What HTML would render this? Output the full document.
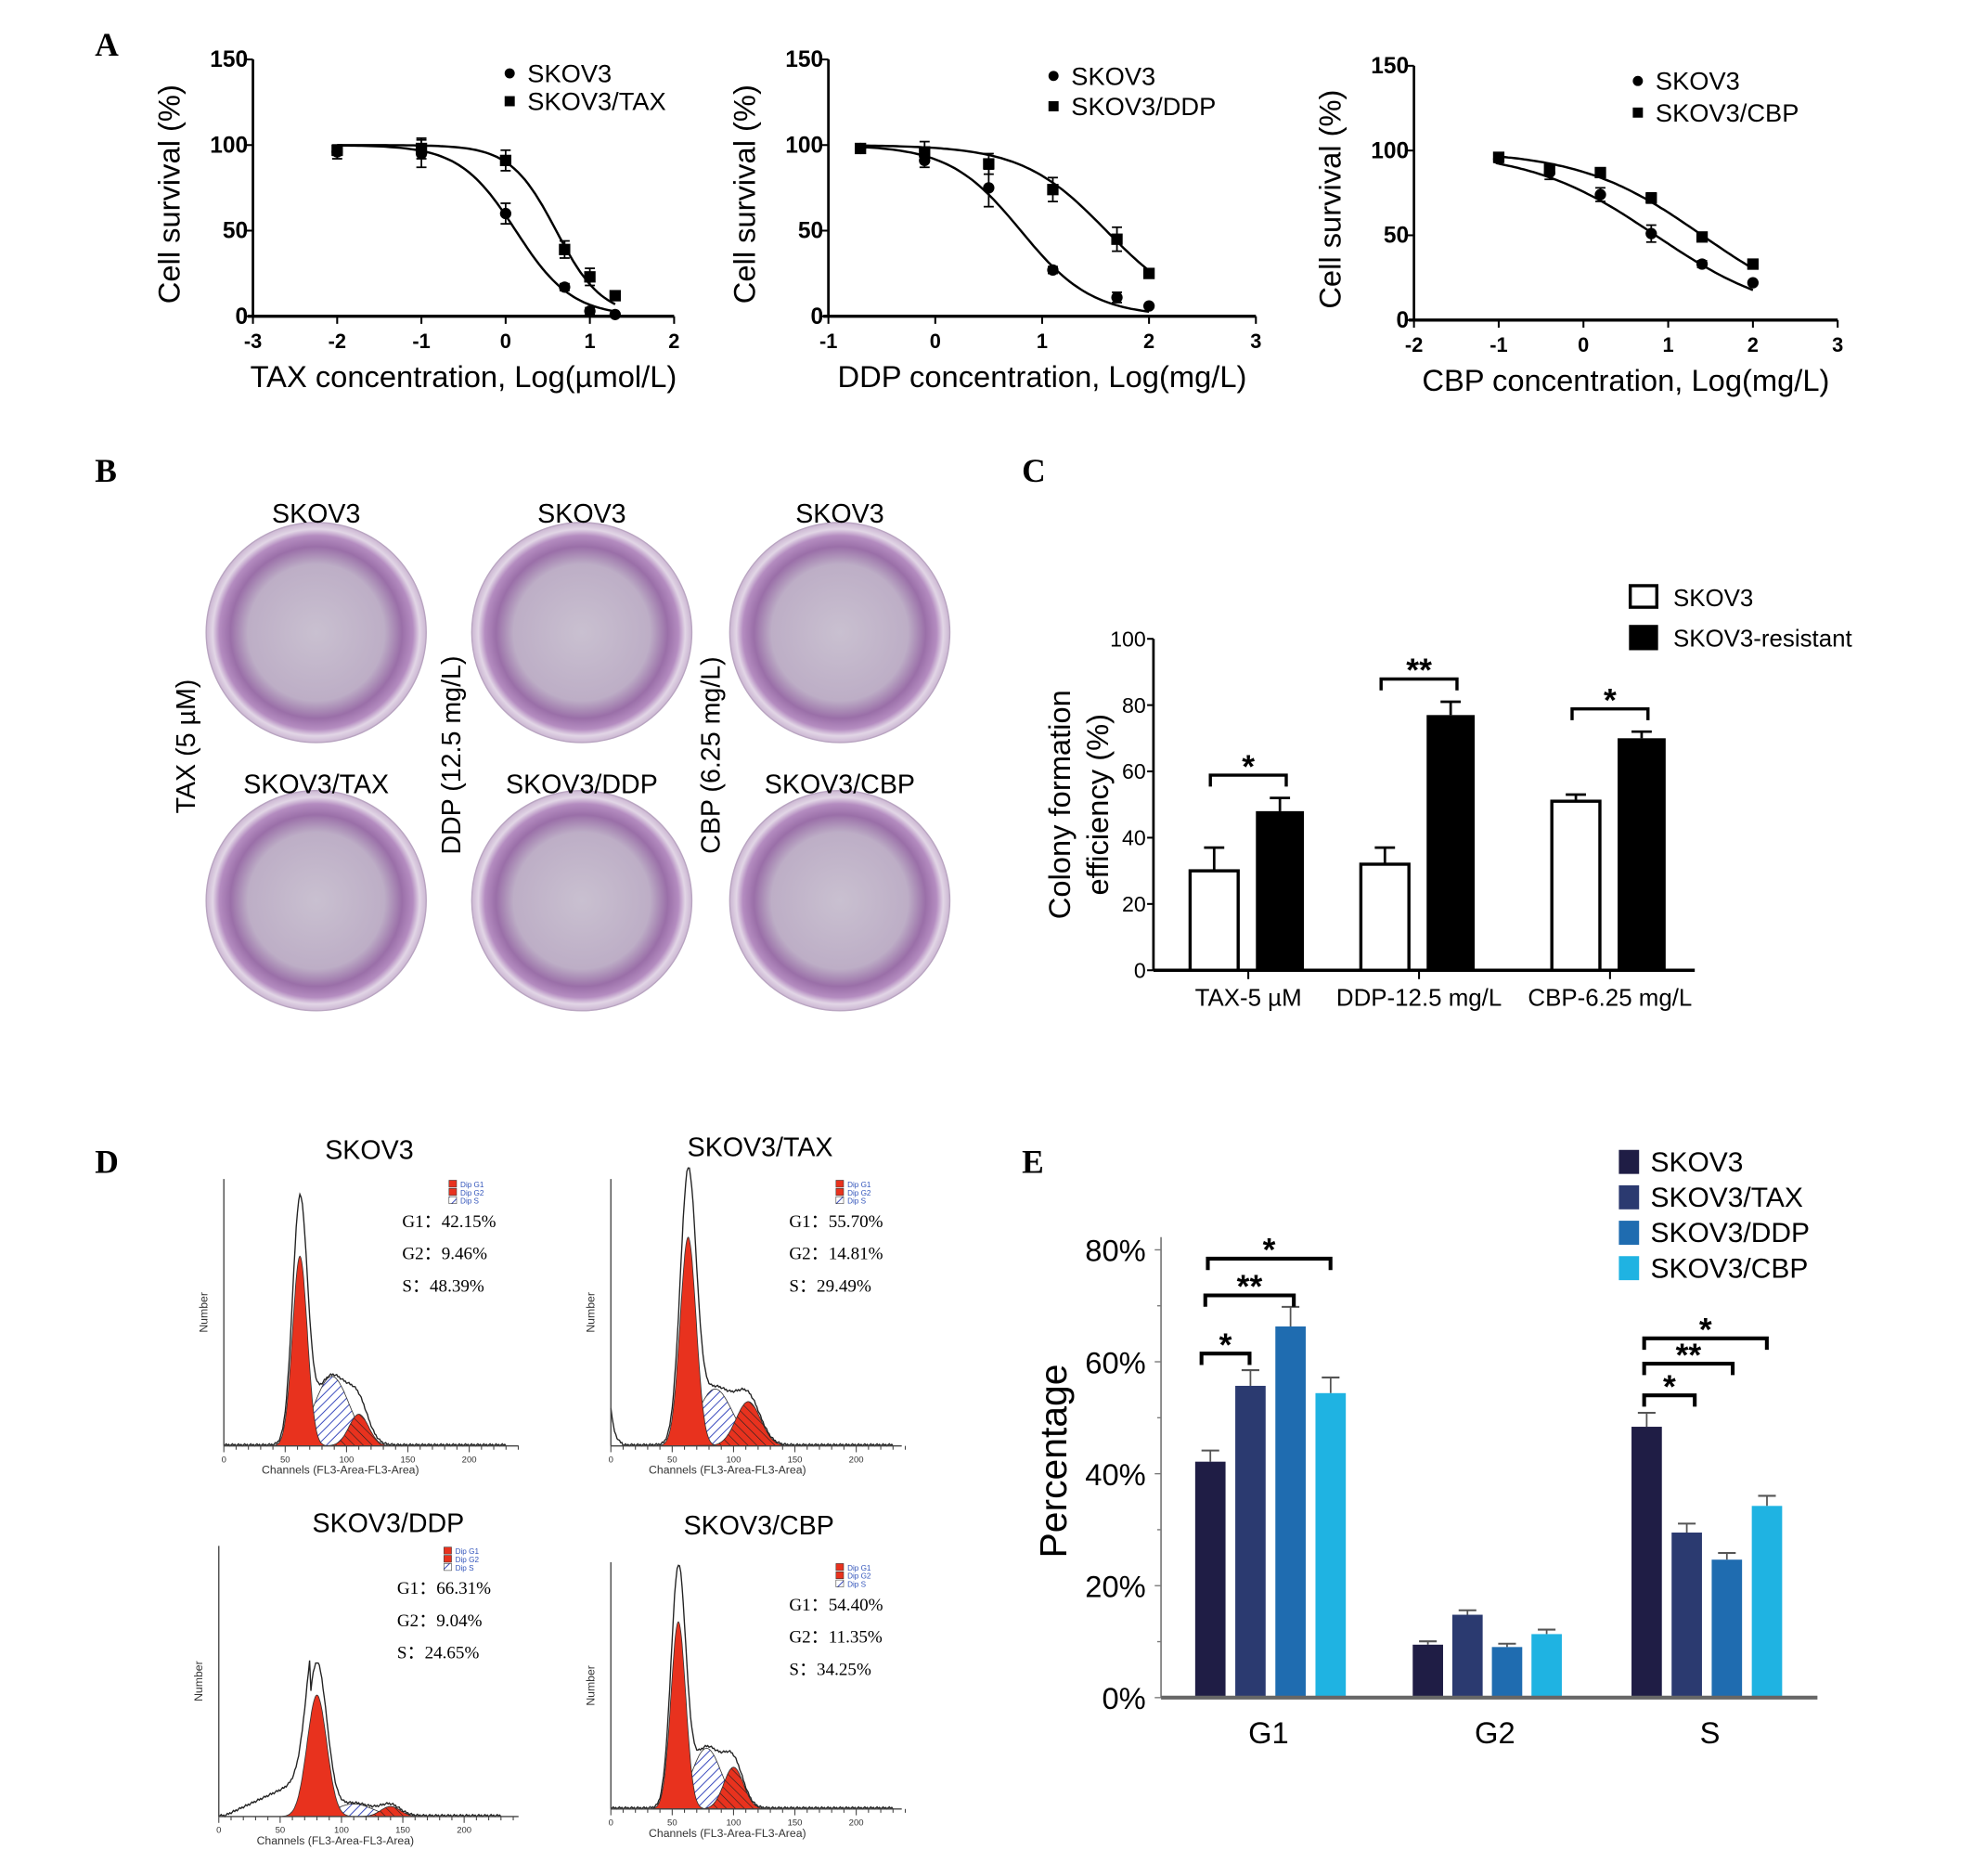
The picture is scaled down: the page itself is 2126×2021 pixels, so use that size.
<!DOCTYPE html>
<html><head><meta charset="utf-8">
<style>
html,body{margin:0;padding:0;background:#fff;}
svg{display:block;font-family:"Liberation Sans",sans-serif;}
.pl{font-family:"Liberation Serif",serif;font-weight:bold;font-size:26px;}
</style></head>
<body>
<svg id="fig" width="2126" height="2021" viewBox="0 0 1560 1483" preserveAspectRatio="none" xmlns="http://www.w3.org/2000/svg">
<defs>
<pattern id="hatchBlue" patternUnits="userSpaceOnUse" width="5" height="5" patternTransform="rotate(45)"><rect width="5" height="5" fill="#fff"/><line x1="0" y1="0" x2="0" y2="5" stroke="#3344bb" stroke-width="1.4"/></pattern>
<pattern id="hatchRed" patternUnits="userSpaceOnUse" width="5" height="5" patternTransform="rotate(-45)"><rect width="5" height="5" fill="#e8321e"/><line x1="0" y1="0" x2="0" y2="5" stroke="#222" stroke-width="0.9"/></pattern>
<radialGradient id="dish" cx="50%" cy="50%" r="50%">
<stop offset="0%" stop-color="#c9c0d0"/><stop offset="62%" stop-color="#bdaec6"/><stop offset="78%" stop-color="#9a6fa8"/><stop offset="88%" stop-color="#b48cc0"/><stop offset="94%" stop-color="#e2d6e6"/><stop offset="100%" stop-color="#cbb6d2"/></radialGradient>
</defs>
<text class="pl" x="75" y="44">A</text>
<text class="pl" x="75" y="381">B</text>
<text class="pl" x="808" y="381">C</text>
<text class="pl" x="75" y="927">D</text>
<text class="pl" x="808" y="927">E</text>
</svg>
<script>
// ---------- Panel A data ----------
const taxX=[-2,-1,0,0.7,1,1.3];
const taxS=[96,95,60,17,3,1];
const taxR=[97,98,91,39,23,12];
const taxSErr=[4,8,6,2,2,1];
const taxRErr=[3,6,6,5,5,2];
const taxFitS=[0.12,1.3];
const taxFitR=[0.6,1.6];
const ddpX=[-0.7,-0.1,0.5,1.1,1.7,2];
const ddpS=[98,91,75,27,11,6];
const ddpR=[98,96,89,74,45,25];
const ddpSErr=[2,4,11,2,3,1];
const ddpRErr=[2,6,6,7,7,2];
const ddpFitS=[0.8,1.3];
const ddpFitR=[1.6,1.1];
const cbpX=[-1,-0.4,0.2,0.8,1.4,2];
const cbpS=[95,87,74,51,33,22];
const cbpR=[96,89,87,72,49,33];
const cbpSErr=[2,4,4,5,2,1];
const cbpRErr=[2,3,2,3,2,1];
const cbpFitS=[0.85,0.58];
const cbpFitR=[1.4,0.6];
const survTicks=[0,50,100,150];
// ---------- Panel C data ----------
const colonyCats=["TAX-5 µM","DDP-12.5 mg/L","CBP-6.25 mg/L"];
const colonyS=[30,32,51];
const colonyR=[48,77,70];
const colonySErr=[7,5,2];
const colonyRErr=[4,4,2];
const colonyStars=["*","**","*"];
const colonyTicks=[0,20,40,60,80,100];
// ---------- Panel E data ----------
const phaseCats=["G1","G2","S"];
const phaseSeries=["SKOV3","SKOV3/TAX","SKOV3/DDP","SKOV3/CBP"];
const phaseG1=[42.15,55.70,66.31,54.40];
const phaseG2=[9.46,14.81,9.04,11.35];
const phaseS=[48.39,29.49,24.65,34.25];
const phaseG1Err=[2,2.8,3.5,2.8];
const phaseG2Err=[0.6,0.8,0.6,0.8];
const phaseSErr=[2.5,1.6,1.2,1.8];
const phaseTicks=[0,20,40,60,80];
// ---------- Panel D data (peak channel, height, sd) ----------
const histTitles=["SKOV3","SKOV3/TAX","SKOV3/DDP","SKOV3/CBP"];
const histG1=[[62,150,6],[63,165,6.5],[80,96,8],[55,148,6]];
const histSph=[[88,55,14],[85,45,14],[110,10,15],[78,48,12]];
const histG2=[[110,25,8],[112,35,10],[140,8,8],[100,33,8]];
const histPct=[["42.15%","9.46%","48.39%"],["55.70%","14.81%","29.49%"],["66.31%","9.04%","24.65%"],["54.40%","11.35%","34.25%"]];

const NS="http://www.w3.org/2000/svg";
const svg=document.getElementById('fig');
function mk(tag,attrs,parent){const e=document.createElementNS(NS,tag);for(const k in attrs)e.setAttribute(k,attrs[k]);(parent||svg).appendChild(e);return e;}
function txt(s,attrs,parent){const e=mk('text',attrs,parent);e.textContent=s;return e;}

// ---------- Panel A ----------
function dose(cfg){
  const g=mk('g',{});
  
  
  const xs=v=>cfg.x0+(v-cfg.xmin)*(cfg.x1-cfg.x0)/(cfg.xmax-cfg.xmin);
  const ys=v=>cfg.y0-(v)*(cfg.y0-cfg.y1)/150;
  let e=mk('line',{x1:cfg.x0,y1:cfg.y1,x2:cfg.x0,y2:cfg.y0,stroke:'#000','stroke-width':2},g);
  
  
  e=mk('line',{x1:cfg.x0-4,y1:cfg.y0,x2:cfg.x1,y2:cfg.y0,stroke:'#000','stroke-width':2.5},g);
  
  
  survTicks.forEach(t=>{
    mk('line',{x1:cfg.x0-5,y1:ys(t),x2:cfg.x0,y2:ys(t),stroke:'#000','stroke-width':1.5},g);
    const l=txt(String(t),{x:cfg.x0-4,y:ys(t)+6,'text-anchor':'end','font-size':18,'font-weight':'bold'},g);
    
    
  });
  for(let t=cfg.xmin;t<=cfg.xmax;t++){
    mk('line',{x1:xs(t),y1:cfg.y0,x2:xs(t),y2:cfg.y0+6,stroke:'#000','stroke-width':1.5},g);
    const l=txt(String(t),{x:xs(t),y:cfg.y0+25,'text-anchor':'middle','font-size':16,'font-weight':'bold'},g);
    
    
  }
  let l=txt(cfg.xlabel,{x:(cfg.x0+cfg.x1)/2,y:cfg.y0+56,'text-anchor':'middle','font-size':24},g);
  
  
  l=txt('Cell survival (%)',{x:0,y:0,'text-anchor':'middle','font-size':24,transform:`translate(${cfg.x0-58},${(cfg.y0+cfg.y1)/2+5}) rotate(-90)`},g);
  
  
  [[cfg.fitS,'curve-skov3'],[cfg.fitR,'curve-resistant']].forEach(([p,n])=>{
    let d='';const a=cfg.xs[0],b=cfg.xs[cfg.xs.length-1];
    for(let i=0;i<=80;i++){const v=a+(b-a)*i/80;const y=100/(1+Math.pow(10,(v-p[0])*p[1]));d+=(i?'L':'M')+xs(v).toFixed(1)+','+ys(y).toFixed(1);}
    const c=mk('path',{d,fill:'none',stroke:'#000','stroke-width':1.8},g);
    
    
  });
  cfg.xs.forEach((v,i)=>{
    [[cfg.s,cfg.se,'c'],[cfg.r,cfg.re,'s']].forEach(([arr,err,m])=>{
      const X=xs(v),Y=ys(arr[i]),E=err[i]*(cfg.y0-cfg.y1)/150;
      mk('line',{x1:X,y1:Y-E,x2:X,y2:Y+E,stroke:'#000','stroke-width':1.3},g);
      mk('line',{x1:X-4,y1:Y-E,x2:X+4,y2:Y-E,stroke:'#000','stroke-width':1.3},g);
      mk('line',{x1:X-4,y1:Y+E,x2:X+4,y2:Y+E,stroke:'#000','stroke-width':1.3},g);
      let p;
      if(m==='c'){p=mk('circle',{cx:X,cy:Y,r:4.5,fill:'#000'},g);}
      else{p=mk('rect',{x:X-4.5,y:Y-4.5,width:9,height:9,fill:'#000'},g);}
      
    });
  });
  let lg=mk('circle',{cx:cfg.lx,cy:cfg.ly,r:4,fill:'#000'},g);
  
  
  lg=txt('SKOV3',{x:cfg.lx+14,y:cfg.ly+7,'font-size':20},g);
  
  
  lg=mk('rect',{x:cfg.lx-4,y:cfg.ly+cfg.ld-4,width:8,height:8,fill:'#000'},g);
  
  
  lg=txt(cfg.rname,{x:cfg.lx+14,y:cfg.ly+cfg.ld+7,'font-size':20},g);
  
  
}
dose({name:'tax-dose-chart',x0:200,x1:533,xmin:-3,xmax:2,y0:250,y1:47,xs:taxX,s:taxS,r:taxR,se:taxSErr,re:taxRErr,fitS:taxFitS,fitR:taxFitR,xlabel:'TAX concentration, Log(µmol/L)',lx:403,ly:58,ld:22,rname:'SKOV3/TAX'});
dose({name:'ddp-dose-chart',x0:655,x1:993,xmin:-1,xmax:3,y0:250,y1:47,xs:ddpX,s:ddpS,r:ddpR,se:ddpSErr,re:ddpRErr,fitS:ddpFitS,fitR:ddpFitR,xlabel:'DDP concentration, Log(mg/L)',lx:833,ly:60,ld:24,rname:'SKOV3/DDP'});
dose({name:'cbp-dose-chart',x0:1118,x1:1453,xmin:-2,xmax:3,y0:253,y1:52,xs:cbpX,s:cbpS,r:cbpR,se:cbpSErr,re:cbpRErr,fitS:cbpFitS,fitR:cbpFitR,xlabel:'CBP concentration, Log(mg/L)',lx:1295,ly:64,ld:25,rname:'SKOV3/CBP'});

// ---------- Panel B ----------
const dishCx=[250,460,664];
const dishTop=["SKOV3","SKOV3","SKOV3"];
const dishBot=["SKOV3/TAX","SKOV3/DDP","SKOV3/CBP"];
const dishSide=["TAX (5 µM)","DDP (12.5 mg/L)","CBP (6.25 mg/L)"];
const dishSideX=[147,357,562];
dishCx.forEach((cx,i)=>{
  [[500,dishTop[i],406,'top'],[712,dishBot[i],620,'bottom']].forEach(([cy,lab,ty,pos])=>{
    let c=mk('circle',{cx,cy,r:87,fill:'url(#dish)',stroke:'#b8a4c0','stroke-width':1});
    
    
    c=txt(lab,{x:cx,y:ty+7,'text-anchor':'middle','font-size':21});
    
    
  });
  const s=txt(dishSide[i],{x:0,y:0,'text-anchor':'middle','font-size':21,transform:`translate(${dishSideX[i]+7},${i?597:590}) rotate(-90)`});
  
  
});

// ---------- Panel C ----------
(function(){
  const X0=912,Y0=767,Y1=505,XR=1340;
  const ys=v=>Y0-v*(Y0-Y1)/100;
  const gx=[987,1122,1273],bw=38;
  let e=mk('line',{x1:X0,y1:Y1,x2:X0,y2:Y0,stroke:'#000','stroke-width':2});
  
  
  e=mk('line',{x1:X0,y1:Y0,x2:XR,y2:Y0,stroke:'#000','stroke-width':2.5});
  
  
  colonyTicks.forEach(t=>{
    mk('line',{x1:X0-5,y1:ys(t),x2:X0,y2:ys(t),stroke:'#000','stroke-width':1.5});
    const l=txt(String(t),{x:X0-6,y:ys(t)+6,'text-anchor':'end','font-size':17});
    
    
  });
  colonyCats.forEach((c,i)=>{
    const cx=gx[i];
    mk('line',{x1:cx,y1:Y0,x2:cx,y2:Y0+7,stroke:'#000','stroke-width':1.5});
    let l=txt(c,{x:cx,y:Y0+28,'text-anchor':'middle','font-size':19});
    
    
    const xa=cx-46,xb=cx+6;
    // error bars
    [[xa,colonyS[i],colonySErr[i]],[xb,colonyR[i],colonyRErr[i]]].forEach(([x,v,er])=>{
      mk('line',{x1:x+bw/2,y1:ys(v),x2:x+bw/2,y2:ys(v+er),stroke:'#000','stroke-width':2});
      mk('line',{x1:x+bw/2-8,y1:ys(v+er),x2:x+bw/2+8,y2:ys(v+er),stroke:'#000','stroke-width':2});
    });
    let b=mk('rect',{x:xa,y:ys(colonyS[i]),width:bw,height:Y0-ys(colonyS[i]),fill:'#fff',stroke:'#000','stroke-width':2.5});
    
    
    b=mk('rect',{x:xb,y:ys(colonyR[i]),width:bw,height:Y0-ys(colonyR[i]),fill:'#000'});
    
    
    const top=ys(Math.max(colonyS[i]+colonySErr[i],colonyR[i]+colonyRErr[i]))-18;
    const br=mk('path',{d:`M${xa+16},${top+9}V${top}H${xb+24}V${top+9}`,fill:'none',stroke:'#000','stroke-width':2.5});
    
    
    l=txt(colonyStars[i],{x:(xa+xb+40)/2,y:top+2,'text-anchor':'middle','font-size':26,'font-weight':'bold'});
    
    
  });
  let l=txt('Colony formation',{x:0,y:0,'text-anchor':'middle','font-size':24,transform:'translate(846,636) rotate(-90)'});
  
  
  l=txt('efficiency (%)',{x:0,y:0,'text-anchor':'middle','font-size':24,transform:'translate(876,636) rotate(-90)'});
  
  
  let r=mk('rect',{x:1289,y:463,width:21,height:17,fill:'#fff',stroke:'#000','stroke-width':2.5});
  
  
  l=txt('SKOV3',{x:1323,y:479,'font-size':19});
  
  
  r=mk('rect',{x:1288,y:494,width:23,height:20,fill:'#000'});
  
  
  l=txt('SKOV3-resistant',{x:1323,y:511,'font-size':19});
  
  
})();

// ---------- Panel D ----------
const histGeo=[[177,1143,932,410],[483,1143,932,713],[173,1436,1222,410],[483,1430,1235,713]];
const histTitlePos=[[292,916],[601,914],[307,1211],[600,1213]];
histTitles.forEach((t,k)=>{
  const [x0,y0,yt,xr]=histGeo[k];
  const g=mk('g',{});
  
  
  const ppc=0.97;
  const X=c=>x0+c*ppc;
  const gau=(p,c)=>p[1]*Math.exp(-0.5*Math.pow((c-p[0])/p[2],2));
  const g1=histG1[k],sp=histSph[k],g2=histG2[k];
  let dG1='M'+X(g1[0]-3.5*g1[2])+','+y0,dS='M'+X(sp[0]-3*sp[2])+','+y0,dG2='M'+X(g2[0]-3.5*g2[2])+','+y0,dO='';
  for(let c=g1[0]-3.5*g1[2];c<=g1[0]+3.5*g1[2];c+=0.5)dG1+='L'+X(c).toFixed(1)+','+(y0-gau(g1,c)).toFixed(1);
  for(let c=sp[0]-3*sp[2];c<=sp[0]+3*sp[2];c+=1)dS+='L'+X(c).toFixed(1)+','+(y0-gau(sp,c)).toFixed(1);
  for(let c=g2[0]-3.5*g2[2];c<=g2[0]+3.5*g2[2];c+=0.5)dG2+='L'+X(c).toFixed(1)+','+(y0-gau(g2,c)).toFixed(1);
  for(let c=0;c<=230;c+=1){
    let v=gau(g1,c)*1.25+gau(sp,c)+gau(g2,c);
    if(k===2&&c<75)v+=Math.max(0,c-5)*0.45;
    if(k===1&&c<10)v+=30*Math.exp(-c/3);
    v+=((c*7)%5)*0.4;
    dO+=(c?'L':'M')+X(c).toFixed(1)+','+(y0-v).toFixed(1);
  }
  let p=mk('path',{d:dS+'Z',fill:'url(#hatchBlue)',stroke:'#333','stroke-width':0.6},g);
  
  
  p=mk('path',{d:dG1+'Z',fill:'#e8321e',stroke:'#333','stroke-width':0.6},g);
  
  
  p=mk('path',{d:dG2+'Z',fill:'url(#hatchRed)',stroke:'#333','stroke-width':0.6},g);
  
  
  p=mk('path',{d:dO,fill:'none',stroke:'#222','stroke-width':1},g);
  
  
  mk('line',{x1:x0,y1:yt,x2:x0,y2:y0,stroke:'#444','stroke-width':1},g);
  mk('line',{x1:x0,y1:y0,x2:xr,y2:y0,stroke:'#444','stroke-width':1},g);
  for(let c=0;c<=240;c+=10)mk('line',{x1:X(c),y1:y0,x2:X(c),y2:y0+(c%50?3:5),stroke:'#444','stroke-width':0.8},g);
  for(let c=0;c<=200;c+=50){const l=txt(String(c),{x:X(c),y:y0+13,'text-anchor':'middle','font-size':7,fill:'#333'},g);}
  let l=txt('Channels (FL3-Area-FL3-Area)',{x:X(95),y:y0+22,'text-anchor':'middle','font-size':9,fill:'#333'},g);
  
  
  l=txt('Number',{x:0,y:0,'text-anchor':'middle','font-size':9,fill:'#333',transform:`translate(${x0-13},${(y0+yt)/2}) rotate(-90)`},g);
  
  
  l=txt(t,{x:histTitlePos[k][0],y:histTitlePos[k][1],'text-anchor':'middle','font-size':21},g);
  
  
  const lx=x0+178,ly=yt+1;
  ['Dip G1','Dip G2','Dip S'].forEach((s,j)=>{
    mk('rect',{x:lx,y:ly+j*6.5,width:6,height:5.5,fill:j<2?'#e8321e':'url(#hatchBlue)',stroke:'#333','stroke-width':0.4},g);
    const q=txt(s,{x:lx+9,y:ly+j*6.5+5.5,'font-size':6,fill:'#3355bb'},g);
    
    
  });
  ['G1','G2','S'].forEach((s,j)=>{
    const q=txt(s+'：'+histPct[k][j],{x:x0+141,y:yt+38+j*25.5,'font-size':14,'font-family':'"Liberation Serif",serif'},g);
    
    
  });
});

// ---------- Panel E ----------
(function(){
  const X0=918,Y0=1342,Y80=988,XR=1437;
  const ys=v=>Y0-v*(Y0-Y80)/80;
  const colors=['#1f1d45','#2b3a70','#1f6cb0','#1fb3e2'];
  const gStart=[945,1117,1290],step=[31.7,31.3,31.7],bw=24;
  const vals=[phaseG1,phaseG2,phaseS],errs=[phaseG1Err,phaseG2Err,phaseSErr];
  const gCenter=[1003,1182,1352];
  let e=mk('line',{x1:X0,y1:Y80-10,x2:X0,y2:Y0,stroke:'#777','stroke-width':1.2});
  
  
  for(let t=0;t<=80;t+=10)mk('line',{x1:X0-(t%20?3:5),y1:ys(t),x2:X0,y2:ys(t),stroke:'#777','stroke-width':1});
  phaseTicks.forEach(t=>{
    const l=txt(t+'%',{x:X0-12,y:ys(t)+9,'text-anchor':'end','font-size':24});
    
    
  });
  phaseCats.forEach((c,gi)=>{
    const l=txt(c,{x:gCenter[gi],y:1378,'text-anchor':'middle','font-size':24});
    
    
    phaseSeries.forEach((s,si)=>{
      const x=gStart[gi]+si*step[gi],v=vals[gi][si],er=errs[gi][si];
      mk('line',{x1:x+bw/2,y1:ys(v),x2:x+bw/2,y2:ys(v+er),stroke:'#555','stroke-width':1.3});
      mk('line',{x1:x+bw/2-7,y1:ys(v+er),x2:x+bw/2+7,y2:ys(v+er),stroke:'#555','stroke-width':1.5});
      const b=mk('rect',{x,y:ys(v),width:bw,height:Y0-ys(v),fill:colors[si]});
      
      
    });
  });
  e=mk('line',{x1:X0,y1:Y0,x2:XR,y2:Y0,stroke:'#666','stroke-width':3});
  
  
  const brk=[[950,988,1070,'*'],[953,1023,1024,'**'],[955,1052,995,'*'],[1300,1340,1103,'*'],[1300,1370,1078,'**'],[1300,1397,1058,'*']];
  brk.forEach(([a,b,y,s])=>{
    const p=mk('path',{d:`M${a},${y+9}V${y}H${b}V${y+9}`,fill:'none',stroke:'#000','stroke-width':3});
    
    
    const t=txt(s,{x:(a+b)/2,y:y+2,'text-anchor':'middle','font-size':26,'font-weight':'bold'});
    
    
  });
  let l=txt('Percentage',{x:0,y:0,'text-anchor':'middle','font-size':30,transform:'translate(843,1155) rotate(-90)'});
  
  
  phaseSeries.forEach((s,i)=>{
    const r=mk('rect',{x:1280,y:909+i*28,width:16,height:19,fill:colors[i]});
    
    
    const t=txt(s,{x:1305,y:926+i*28,'font-size':22});
    
    
  });
})();
</script>
</body></html>
